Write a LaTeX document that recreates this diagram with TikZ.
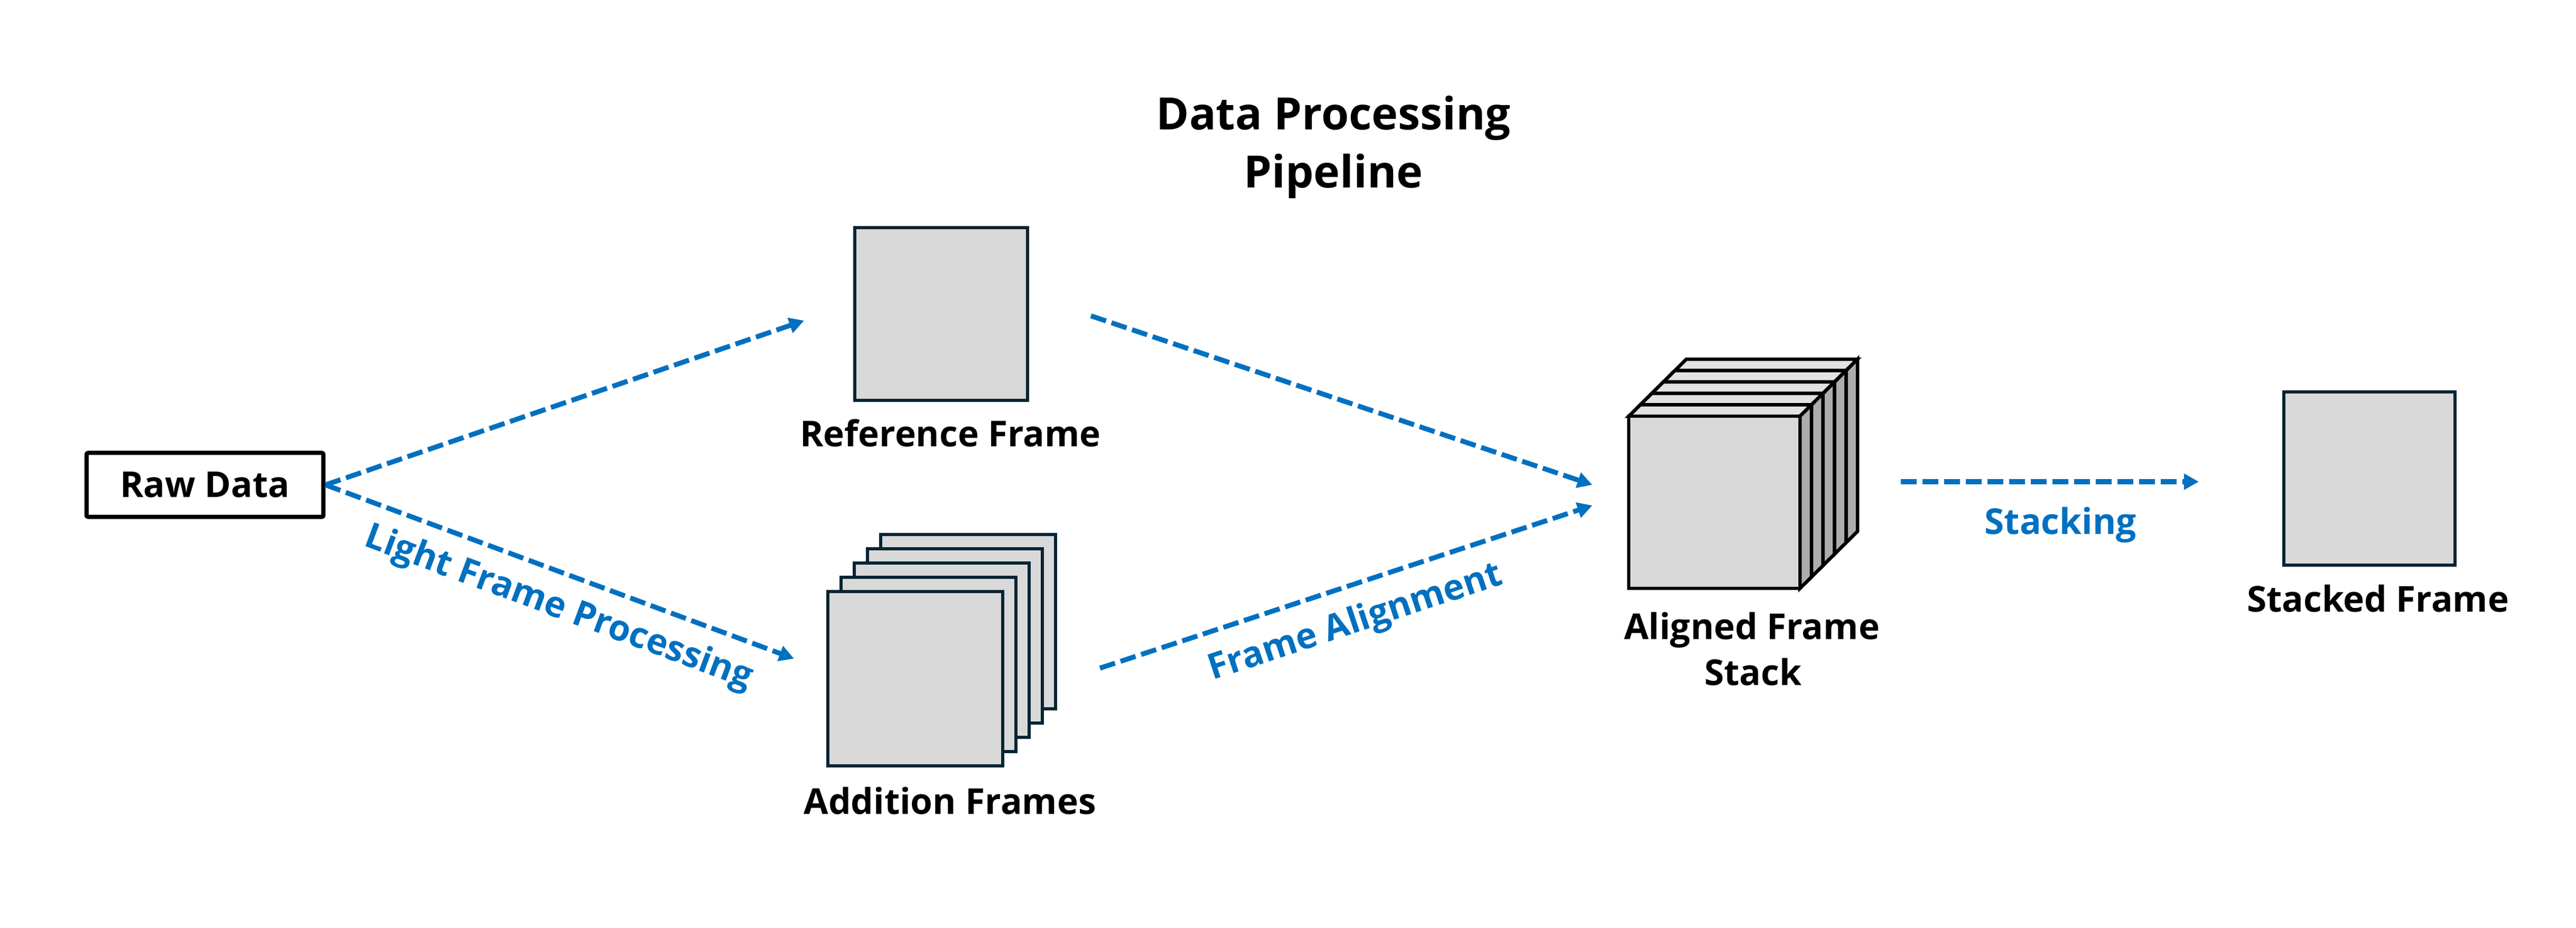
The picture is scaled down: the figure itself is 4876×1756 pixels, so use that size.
\documentclass[tikz,border=0pt]{standalone}
\usepackage{fontspec}
\setmainfont{Open Sans}
\usetikzlibrary{arrows.meta}
\definecolor{flowblue}{HTML}{0070C0}
\definecolor{framenavy}{HTML}{042433}
\definecolor{facegray}{HTML}{D9D9D9}
\definecolor{topgray}{HTML}{E2E2E2}
\definecolor{sidegray}{HTML}{ADADAD}
\begin{document}
\begin{tikzpicture}[x=0.01cm,y=-0.01cm,
  flow/.style={draw=flowblue, line width=0.093cm, dash pattern=on 0.30cm off 0.11cm,
    -{Triangle[length=0.28cm,width=0.29cm]}},
  flowlabel/.style={text=flowblue, font=\fontsize{19.2}{22}\selectfont\bfseries, inner sep=0pt},
  caption/.style={font=\fontsize{19.2}{22}\selectfont\bfseries, inner sep=0pt, anchor=base},
  titlefont/.style={font=\fontsize{24}{28}\selectfont\bfseries, inner sep=0pt, anchor=base},
  frame/.style={draw=framenavy, fill=facegray, line width=0.065cm, inner sep=0pt},
  cubeline/.style={draw=black, line width=0.065cm}]
\path[fill=white, use as bounding box] (0,0) rectangle (4876,1756);

% title
\node[titlefont] (title1) at (2524,245) {Data Processing};
\node[titlefont] (title2) at (2524,355) {Pipeline};

% raw data
\node[draw=black, line width=0.08cm, rounded corners=0.03cm, minimum width=4.48cm,
  minimum height=1.21cm, inner sep=0pt, font=\fontsize{19.2}{22}\selectfont\bfseries]
  (raw) at (388,918) {Raw Data};

% reference frame
\node[frame, minimum width=3.27cm, minimum height=3.27cm] (ref) at (1781.5,594.5) {};
\node[caption] (refcap) at (1799,845) {Reference Frame};

% addition frames
\foreach \i in {4,3,2,1}{
  \node[frame, minimum width=3.31cm, minimum height=3.30cm] (add\i) at ({1732.5+25*\i},{1285-27*\i}) {};
}
\node[frame, minimum width=3.31cm, minimum height=3.30cm] (add) at (1732.5,1285) {};
\node[caption] (addcap) at (1798,1541) {Addition Frames};

% aligned frame stack
\foreach \i in {4,3,2,1,0}{
  \filldraw[cubeline, fill=topgray]
    ({3083+21.8*\i},{788-21.6*\i}) -- ({3407+21.8*\i},{788-21.6*\i})
    -- ({3407+21.8*(\i+1)},{788-21.6*(\i+1)}) -- ({3083+21.8*(\i+1)},{788-21.6*(\i+1)}) -- cycle;
  \filldraw[cubeline, fill=sidegray]
    ({3407+21.8*\i},{788-21.6*\i}) -- ({3407+21.8*(\i+1)},{788-21.6*(\i+1)})
    -- ({3407+21.8*(\i+1)},{1114-21.6*(\i+1)}) -- ({3407+21.8*\i},{1114-21.6*\i}) -- cycle;
}
\node[draw=black, fill=facegray, line width=0.065cm, minimum width=3.24cm,
  minimum height=3.26cm, inner sep=0pt] (aligned) at (3245,951) {};
\node[caption] (alcap1) at (3316,1210) {Aligned Frame};
\node[caption] (alcap2) at (3318,1297) {Stack};

% stacked frame
\node[frame, minimum width=3.24cm, minimum height=3.28cm] (stacked) at (4485,906) {};
\node[caption] (stcap) at (4501,1158) {Stacked Frame};

% connectors
\coordinate (a1e) at (1522,607);
\coordinate (a2e) at (1503,1247);
\coordinate (a3s) at (2065,598);
\coordinate (a3e) at (3014,918);
\coordinate (a4s) at (2082,1265);
\coordinate (a4e) at (3014,957);
\coordinate (a5s) at (3598,912);
\coordinate (a5e) at (4162,912);
\draw[flow] (raw.east) -- (a1e);
\draw[flow] (raw.east) -- (a2e);
\draw[flow] (a3s) -- (a3e);
\draw[flow] (a4s) -- (a4e);
\draw[flow] (a5s) -- (a5e);

\node[flowlabel, rotate=-20.4] (lfp) at (1057,1152) {Light Frame Processing};
\node[flowlabel, rotate=18.3] (fal) at (2566,1180) {Frame Alignment};
\node[flowlabel, anchor=base] (stk) at (3900,1011) {Stacking};
\end{tikzpicture}
\end{document}
